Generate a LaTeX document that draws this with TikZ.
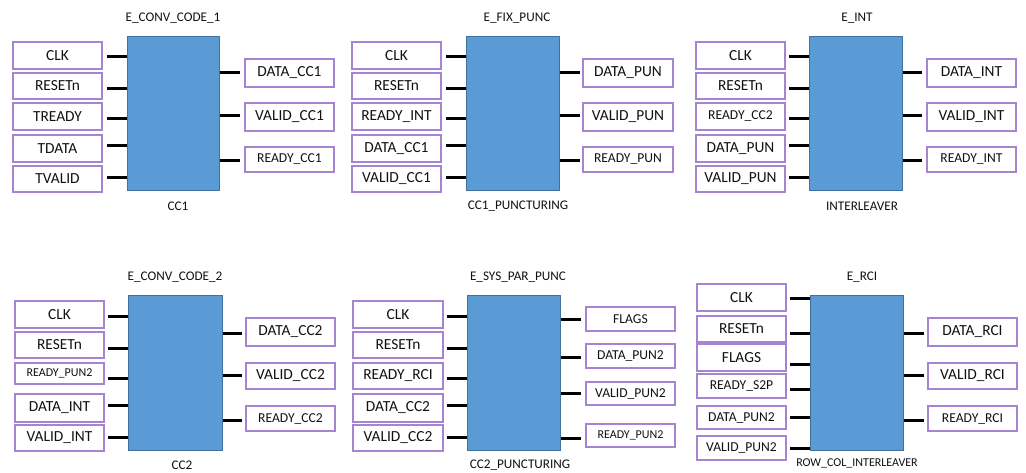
\documentclass[tikz,border=0pt]{standalone}
\usepackage{fontspec}
\setmainfont{Carlito}

\definecolor{blkfill}{HTML}{5B9BD5}
\definecolor{blkline}{HTML}{41719C}
\definecolor{portline}{HTML}{A584D2}
\definecolor{txt}{HTML}{111111}

\newcommand\fbig{\fontsize{15.4}{18}\selectfont}
\newcommand\fmid{\fontsize{13.6}{16}\selectfont}
\newcommand\fsmall{\fontsize{12}{14}\selectfont}
\newcommand\ftitle{\fontsize{13.2}{16}\selectfont}

\tikzset{
  blk/.style={draw=blkline, fill=blkfill, line width=1pt, inner sep=0pt},
  port/.style={draw=portline, line width=1.2pt, inner sep=0pt, text=txt},
  stub/.style={line width=3pt, black},
  ttl/.style={font=\ftitle, text=txt, inner sep=0pt},
}

% signal box between two corners (x1,y1) (x2,y2)
\def\portbox#1#2(#3,#4)(#5,#6)#7{%
  \node[port, font=#1, minimum width={#5-#3}, minimum height={#6-#4}]
    (#2) at ({(#3+#5)/2},{(#4+#6)/2}) {#7};}
% entity body between two corners
\def\coreblk#1(#2,#3)(#4,#5){%
  \node[blk, minimum width={#4-#2}, minimum height={#5-#3}]
    (#1) at ({(#2+#4)/2},{(#3+#5)/2}) {};}
% short pin from a free end to the entity edge
\newcommand\stubin[3]{\coordinate (#2) at (#3); \draw[stub] (#2) -- (#2 -| #1.west);}
\newcommand\stubout[3]{\coordinate (#2) at (#3); \draw[stub] (#2) -- (#2 -| #1.east);}

\begin{document}
\begin{tikzpicture}[x=1pt, y=-1pt]
\useasboundingbox (0,0) rectangle (1026,473);

% ---------------- E_CONV_CODE_1 ----------------
\coreblk{a}(127,37)(219,191)
\node[ttl] (a-title) at (173,18) {E\_CONV\_CODE\_1};
\node[ttl] (a-name) at (178,206) {CC1};
\portbox{\fbig}{a-clk}(13,42)(102,69){CLK}
\portbox{\fbig}{a-rst}(13,73)(102,99){RESETn}
\portbox{\fbig}{a-trdy}(13,103)(102,130){TREADY}
\portbox{\fbig}{a-tdat}(13,135)(102,162){TDATA}
\portbox{\fbig}{a-tval}(13,166)(102,192){TVALID}
\stubin{a}{a-i1}{107,57}
\stubin{a}{a-i2}{107,89}
\stubin{a}{a-i3}{107,119}
\stubin{a}{a-i4}{107,146}
\stubin{a}{a-i5}{107,178}
\portbox{\fbig}{a-dat}(245,59)(334,87){DATA\_CC1}
\portbox{\fbig}{a-val}(245,103)(334,131){VALID\_CC1}
\portbox{\fmid}{a-rdy}(245,147)(334,172){READY\_CC1}
\stubout{a}{a-o1}{240,73}
\stubout{a}{a-o2}{240,116}
\stubout{a}{a-o3}{240,161}

% ---------------- E_FIX_PUNC ----------------
\coreblk{b}(466,37)(559,191)
\node[ttl] (b-title) at (517,18) {E\_FIX\_PUNC};
\node[ttl] (b-name) at (518,206) {CC1\_PUNCTURING};
\portbox{\fbig}{b-clk}(352,42)(441,69){CLK}
\portbox{\fbig}{b-rst}(352,73)(441,99){RESETn}
\portbox{\fbig}{b-rdy-in}(352,103)(441,130){READY\_INT}
\portbox{\fbig}{b-dat-in}(352,135)(441,162){DATA\_CC1}
\portbox{\fbig}{b-val-in}(352,166)(441,192){VALID\_CC1}
\stubin{b}{b-i1}{446,57}
\stubin{b}{b-i2}{446,89}
\stubin{b}{b-i3}{446,119}
\stubin{b}{b-i4}{446,146}
\stubin{b}{b-i5}{446,178}
\portbox{\fbig}{b-dat}(583,59)(673,87){DATA\_PUN}
\portbox{\fbig}{b-val}(583,103)(673,131){VALID\_PUN}
\portbox{\fmid}{b-rdy}(583,147)(673,172){READY\_PUN}
\stubout{b}{b-o1}{580,73}
\stubout{b}{b-o2}{580,116}
\stubout{b}{b-o3}{580,161}

% ---------------- E_INT ----------------
\coreblk{c}(809,37)(902,191)
\node[ttl] (c-title) at (857,18) {E\_INT};
\node[ttl] (c-name) at (862,206) {INTERLEAVER};
\portbox{\fbig}{c-clk}(696,42)(785,69){CLK}
\portbox{\fbig}{c-rst}(696,73)(785,99){RESETn}
\portbox{\fmid}{c-rdy-in}(696,103)(785,130){READY\_CC2}
\portbox{\fbig}{c-dat-in}(696,135)(785,162){DATA\_PUN}
\portbox{\fbig}{c-val-in}(696,166)(785,192){VALID\_PUN}
\stubin{c}{c-i1}{789,57}
\stubin{c}{c-i2}{789,89}
\stubin{c}{c-i3}{789,119}
\stubin{c}{c-i4}{789,146}
\stubin{c}{c-i5}{789,178}
\portbox{\fbig}{c-dat}(927,59)(1016,87){DATA\_INT}
\portbox{\fbig}{c-val}(927,103)(1016,131){VALID\_INT}
\portbox{\fmid}{c-rdy}(927,147)(1016,172){READY\_INT}
\stubout{c}{c-o1}{922,73}
\stubout{c}{c-o2}{922,116}
\stubout{c}{c-o3}{922,161}

% ---------------- E_CONV_CODE_2 ----------------
\coreblk{d}(128,296)(222,450)
\node[ttl] (d-title) at (175,277) {E\_CONV\_CODE\_2};
\node[ttl] (d-name) at (182,465) {CC2};
\portbox{\fbig}{d-clk}(15,301)(104,328){CLK}
\portbox{\fbig}{d-rst}(15,332)(104,358){RESETn}
\portbox{\fsmall}{d-rdy-in}(15,363)(104,384){READY\_PUN2}
\portbox{\fbig}{d-dat-in}(15,394)(104,422){DATA\_INT}
\portbox{\fbig}{d-val-in}(15,425)(104,451){VALID\_INT}
\stubin{d}{d-i1}{108,316}
\stubin{d}{d-i2}{108,348}
\stubin{d}{d-i3}{108,378}
\stubin{d}{d-i4}{108,405}
\stubin{d}{d-i5}{108,437}
\portbox{\fbig}{d-dat}(246,318)(335,346){DATA\_CC2}
\portbox{\fbig}{d-val}(246,363)(335,389){VALID\_CC2}
\portbox{\fmid}{d-rdy}(246,406)(335,431){READY\_CC2}
\stubout{d}{d-o1}{242,333}
\stubout{d}{d-o2}{242,375}
\stubout{d}{d-o3}{242,420}

% ---------------- E_SYS_PAR_PUNC ----------------
\coreblk{e}(467,296)(560,450)
\node[ttl] (e-title) at (518,277) {E\_SYS\_PAR\_PUNC};
\node[ttl] (e-name) at (520,465) {CC2\_PUNCTURING};
\portbox{\fbig}{e-clk}(353,301)(443,328){CLK}
\portbox{\fbig}{e-rst}(353,332)(443,358){RESETn}
\portbox{\fbig}{e-rdy-in}(353,363)(443,389){READY\_RCI}
\portbox{\fbig}{e-dat-in}(353,394)(443,422){DATA\_CC2}
\portbox{\fbig}{e-val-in}(353,425)(443,451){VALID\_CC2}
\stubin{e}{e-i1}{447,316}
\stubin{e}{e-i2}{447,348}
\stubin{e}{e-i3}{447,378}
\stubin{e}{e-i4}{447,405}
\stubin{e}{e-i5}{447,437}
\portbox{\fmid}{e-flg}(586,307)(675,331){FLAGS}
\portbox{\fmid}{e-dat}(586,344)(675,368){DATA\_PUN2}
\portbox{\fmid}{e-val}(586,382)(675,405){VALID\_PUN2}
\portbox{\fsmall}{e-rdy}(586,424)(675,447){READY\_PUN2}
\stubout{e}{e-o1}{581,319}
\stubout{e}{e-o2}{581,357}
\stubout{e}{e-o3}{581,393}
\stubout{e}{e-o4}{581,438}

% ---------------- E_RCI ----------------
\coreblk{f}(810,296)(903,450)
\node[ttl] (f-title) at (862,277) {E\_RCI};
\node[ttl, font=\fsmall] (f-name) at (857,463) {ROW\_COL\_INTERLEAVER};
\portbox{\fbig}{f-clk}(697,284)(786,311){CLK}
\portbox{\fbig}{f-rst}(697,316)(786,342){RESETn}
\portbox{\fbig}{f-flg}(697,344)(786,371){FLAGS}
\portbox{\fmid}{f-rdy-in}(697,374)(786,398){READY\_S2P}
\portbox{\fmid}{f-dat-in}(697,406)(786,429){DATA\_PUN2}
\portbox{\fmid}{f-val-in}(697,436)(786,460){VALID\_PUN2}
\stubin{f}{f-i1}{790,299}
\stubin{f}{f-i2}{790,333}
\stubin{f}{f-i3}{790,364}
\stubin{f}{f-i4}{790,389}
\stubin{f}{f-i5}{790,417}
\stubin{f}{f-i6}{790,448}
\portbox{\fbig}{f-dat}(928,318)(1017,346){DATA\_RCI}
\portbox{\fbig}{f-val}(928,363)(1017,389){VALID\_RCI}
\portbox{\fmid}{f-rdy}(928,406)(1017,431){READY\_RCI}
\stubout{f}{f-o1}{924,333}
\stubout{f}{f-o2}{924,375}
\stubout{f}{f-o3}{924,420}
\end{tikzpicture}
\end{document}
